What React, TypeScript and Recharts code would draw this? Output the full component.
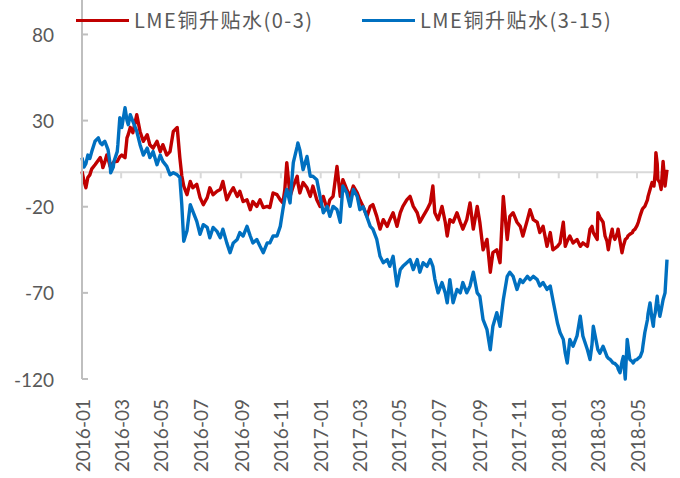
import { LineChart, Line, XAxis, YAxis, ReferenceLine } from 'recharts';

const dates = [
    '2016-01-04', '2016-01-07', '2016-01-10', '2016-01-13', '2016-01-16', '2016-01-19', '2016-01-24', '2016-01-29',
    '2016-02-01', '2016-02-04', '2016-02-05', '2016-02-08', '2016-02-11', '2016-02-13', '2016-02-16', '2016-02-17',
    '2016-02-21', '2016-02-22', '2016-02-27', '2016-02-28', '2016-03-02', '2016-03-05', '2016-03-10', '2016-03-13',
    '2016-03-15', '2016-03-18', '2016-03-22', '2016-03-28', '2016-04-02', '2016-04-07', '2016-04-13', '2016-04-17',
    '2016-04-22', '2016-04-28', '2016-05-03', '2016-05-07', '2016-05-13', '2016-05-18', '2016-05-23', '2016-05-29',
    '2016-06-02', '2016-06-05', '2016-06-08', '2016-06-13', '2016-06-18', '2016-06-22', '2016-06-28', '2016-07-03',
    '2016-07-08', '2016-07-14', '2016-07-18', '2016-07-23', '2016-07-29', '2016-08-03', '2016-08-07', '2016-08-13',
    '2016-08-18', '2016-08-23', '2016-08-29', '2016-09-02', '2016-09-07', '2016-09-13', '2016-09-18', '2016-09-22',
    '2016-09-28', '2016-10-03', '2016-10-08', '2016-10-14', '2016-10-18', '2016-10-23', '2016-10-29', '2016-11-03',
    '2016-11-07', '2016-11-10', '2016-11-13', '2016-11-18', '2016-11-23', '2016-11-29', '2016-11-30', '2016-12-03',
    '2016-12-08', '2016-12-14', '2016-12-19', '2016-12-23', '2016-12-29', '2017-01-03', '2017-01-08', '2017-01-14',
    '2017-01-18', '2017-01-23', '2017-01-29', '2017-02-03', '2017-02-07', '2017-02-13', '2017-02-18', '2017-02-23',
    '2017-03-01', '2017-03-05', '2017-03-10', '2017-03-16', '2017-03-21', '2017-03-25', '2017-03-31', '2017-04-05',
    '2017-04-10', '2017-04-16', '2017-04-20', '2017-04-25', '2017-05-01', '2017-05-06', '2017-05-10', '2017-05-16',
    '2017-05-21', '2017-05-26', '2017-06-01', '2017-06-05', '2017-06-10', '2017-06-16', '2017-06-21', '2017-06-25',
    '2017-06-28', '2017-07-03', '2017-07-09', '2017-07-14', '2017-07-17', '2017-07-21', '2017-07-26', '2017-08-01',
    '2017-08-06', '2017-08-10', '2017-08-16', '2017-08-21', '2017-08-26', '2017-09-01', '2017-09-05', '2017-09-10',
    '2017-09-16', '2017-09-21', '2017-09-25', '2017-10-01', '2017-10-06', '2017-10-11', '2017-10-17', '2017-10-21',
    '2017-10-26', '2017-11-01', '2017-11-06', '2017-11-10', '2017-11-17', '2017-11-21', '2017-11-26', '2017-12-02',
    '2017-12-06', '2017-12-11', '2017-12-17', '2017-12-22', '2017-12-26', '2018-01-02', '2018-01-06', '2018-01-11',
    '2018-01-14', '2018-01-17', '2018-01-21', '2018-01-26', '2018-02-01', '2018-02-06', '2018-02-10', '2018-02-17',
    '2018-02-21', '2018-02-24', '2018-02-26', '2018-03-04', '2018-03-05', '2018-03-08', '2018-03-13', '2018-03-16',
    '2018-03-19', '2018-03-21', '2018-03-24', '2018-03-27', '2018-03-28', '2018-03-31', '2018-04-04', '2018-04-05',
    '2018-04-08', '2018-04-11', '2018-04-13', '2018-04-16', '2018-04-19', '2018-04-20', '2018-04-23', '2018-04-27',
    '2018-04-28', '2018-05-01', '2018-05-04', '2018-05-06', '2018-05-09', '2018-05-12', '2018-05-13', '2018-05-16',
    '2018-05-20', '2018-05-21', '2018-05-24', '2018-05-27', '2018-05-29', '2018-05-30', '2018-06-01', '2018-06-02',
    '2018-06-04', '2018-06-05', '2018-06-08', '2018-06-10', '2018-06-13', '2018-06-16', '2018-06-19',
];

const spread0to3 = [
    0.5, -5, -9, -3, -1.5, 2, 4.4, 7, 8.5, 5, 2.7, 6, 10, 8, 3.4, 4,
    5.6, 6, 6.3, 7, 9, 10, 8.5, 20, 22, 26, 23, 33.4, 23.7, 18, 21.8, 16,
    14, 18, 12, 16, 10, 12, 23.7, 26, 8.5, -2, -8, -13, -5.3, -9, -7, -14.7,
    -18.8, -14.7, -9, -13, -11, -10, -5.3, -16, -12, -9, -14, -11, -17, -16, -21.7, -17,
    -19.8, -16, -20.5, -19.8, -20.5, -12, -13, -16, -17.8, -10, 5.6, -14, -8, -2.3, -6, -12,
    -6, -9, -14, -8, -16, -19.8, -14, -21.7, -16, -14, 3.4, -14, -4.3, -10, -14, -8,
    -12, -16, -19.8, -25.6, -19.8, -18.8, -25.6, -33, -27.5, -31.4, -27.5, -23.5, -31.4, -23.5, -19.8, -16,
    -14, -19.8, -23.5, -29, -25.6, -21.7, -17.8, -8, -23.5, -27.5, -19.8, -29, -37, -27.5, -29, -23.5,
    -29, -33, -27.5, -17.8, -33, -19.8, -29, -45, -39, -58, -46.7, -45, -52.5, -14, -39, -25.6,
    -23.5, -29, -31.4, -37, -27.5, -21.7, -27.5, -29, -35, -31.4, -43, -35, -45, -43, -41, -29,
    -43, -40, -37, -41, -39, -43, -41, -43, -33, -31.4, -35, -39, -23.5, -26, -29, -37,
    -40, -45, -38, -33, -36, -39, -35, -33, -40, -46.7, -43, -39, -38, -37, -36, -35,
    -34, -33, -31, -29, -25, -21.7, -21, -19.8, -16, -14, -10, -6, -7, -8, 0, 11.4,
    5, -4.3, -6, -10, 6.3, -8, 1.5,
];

const spread3to15 = [
    8.5, 3, 5, 10, 8, 12, 18, 20, 17, 16, 17, 18, 15, 13, 5, -0.3,
    3, 6.3, 12, 16, 31.7, 26, 37.5, 30, 27.6, 33.4, 29.6, 23.7, 16, 10, 14, 8.5,
    12, 4.4, 10, 6.3, 3.4, -1.5, -0.3, -1.5, -3, -18.8, -40, -34, -18.8, -22.7, -28.5, -36,
    -30.4, -32, -38, -32, -34.3, -38, -33, -41, -46.7, -41, -39, -35, -37, -31.4, -37, -41,
    -39, -43, -46.7, -41, -41, -37, -37, -31.4, -21.7, -15, -10, -17.8, 5.6, 15, 17, 13,
    1.5, 9.2, -2.3, -2.3, -4.3, -14, -23.5, -19.8, -25.6, -19.8, -21.7, -29, -8, -12, -19.8, -10,
    -14, -21.7, -20, -26, -31.4, -33, -39, -48.8, -52.5, -50.7, -54.6, -48.8, -66, -56.5, -54.6, -52.5,
    -50.7, -56.5, -50.7, -58, -52.5, -54.6, -50.7, -54.6, -62, -70, -64, -70, -75.8, -62.3, -75.8, -68,
    -70, -64, -70, -66, -58, -70, -72, -85.6, -91.4, -103, -89.4, -81.5, -89.4, -74, -60.4, -58,
    -60.4, -68, -62.3, -64, -60.4, -62.3, -60.4, -62.3, -66, -64, -68, -66, -74, -87.5, -93, -97,
    -105, -110.7, -97, -101, -95, -83.6, -95, -103, -108.7, -100, -89.4, -101, -103, -105, -101, -104,
    -107, -108, -108.7, -110, -110.7, -111, -112.6, -114, -116.4, -110, -107, -120, -97, -100, -108.7, -110,
    -110.7, -109, -108.7, -108, -107, -104, -101, -93, -85.6, -82, -75.8, -85, -89.4, -85, -81.5, -78,
    -72, -76, -83.6, -80, -74, -70, -50.7,
];

const seriesNames = ['LME铜升贴水(0-3)', 'LME铜升贴水(3-15)'];
const seriesColors = ['#C00000', '#0070C0'];
const yTicks = [-120, -70, -20, 30, 80];
const xTickDates = [
    '2016-01-04', '2016-03-04', '2016-05-04', '2016-07-04', '2016-09-04', '2016-11-04',
    '2017-01-04', '2017-03-04', '2017-05-04', '2017-07-04', '2017-09-04', '2017-11-04',
    '2018-01-04', '2018-03-04', '2018-05-04',
];

const AXIS_X = 82;
const FONT = 'Lato, "Noto Sans", sans-serif';
const CJK_FONT = '"Noto Sans CJK SC", "Noto Sans", sans-serif';

const chartData = dates.map((d, i) => ({ t: Date.parse(d), a: spread0to3[i], b: spread3to15[i] }));
const xTicks = xTickDates.map((d) => Date.parse(d));
const fmtMonth = (t: number) => new Date(t).toISOString().slice(0, 7);

const YTick = ({ y, payload }: any) => (
    <g>
        <line x1={AXIS_X} x2={AXIS_X + 6} y1={y} y2={y} stroke="#bfbfbf" strokeWidth={2} />
        <text x={54} y={y} textAnchor="end" dominantBaseline="central" fill="#595959" fontSize={19} fontFamily={FONT}>
            {payload.value}
        </text>
    </g>
);

const XTick = ({ x, y, payload }: any) => (
    <text
        transform={`translate(${x},${y + 18}) rotate(-90)`}
        textAnchor="end"
        dominantBaseline="central"
        fill="#595959"
        fontSize={19}
        fontFamily={FONT}
    >
        {fmtMonth(payload.value)}
    </text>
);

const LegendItem = ({ name, color, left }: { name: string; color: string; left: number }) => (
    <div style={{ position: 'absolute', left, top: 6, display: 'flex', alignItems: 'center', whiteSpace: 'nowrap' }}>
        <span style={{ display: 'inline-block', width: 53, height: 3, background: color, marginRight: 5 }} />
        <span style={{ fontFamily: CJK_FONT, fontSize: 20, color: '#595959', letterSpacing: 1.5, lineHeight: '28px' }}>{name}</span>
    </div>
);

export default function App() {
    return (
        <div style={{ position: 'absolute', left: 0, top: 0, width: 680, height: 478, background: '#fff' }}>
            <LineChart width={680} height={478} data={chartData} margin={{ top: 0, right: 13, bottom: 0, left: 0 }}>
                <XAxis
                    dataKey="t"
                    type="number"
                    domain={[chartData[0].t, chartData[chartData.length - 1].t]}
                    ticks={xTicks}
                    interval={0}
                    height={99}
                    axisLine={false}
                    tickLine={false}
                    tickSize={0}
                    tick={<XTick />}
                />
                <YAxis
                    type="number"
                    domain={[-120, 100]}
                    ticks={yTicks}
                    interval={0}
                    width={AXIS_X}
                    axisLine={{ stroke: '#bfbfbf', strokeWidth: 2 }}
                    tickLine={false}
                    tick={<YTick />}
                />
                <ReferenceLine y={0} stroke="#d9d9d9" strokeWidth={2} />
                {xTicks.map((t) => (
                    <ReferenceLine
                        key={t}
                        segment={[{ x: t, y: 0 }, { x: t, y: -3.5 }]}
                        stroke="#d9d9d9"
                        strokeWidth={2}
                    />
                ))}
                <Line dataKey="a" name={seriesNames[0]} stroke={seriesColors[0]} strokeWidth={3.4} strokeLinejoin="round" dot={false} isAnimationActive={false} />
                <Line dataKey="b" name={seriesNames[1]} stroke={seriesColors[1]} strokeWidth={3.4} strokeLinejoin="round" dot={false} isAnimationActive={false} />
            </LineChart>
            <LegendItem name={seriesNames[0]} color={seriesColors[0]} left={76} />
            <LegendItem name={seriesNames[1]} color={seriesColors[1]} left={362} />
        </div>
    );
}
